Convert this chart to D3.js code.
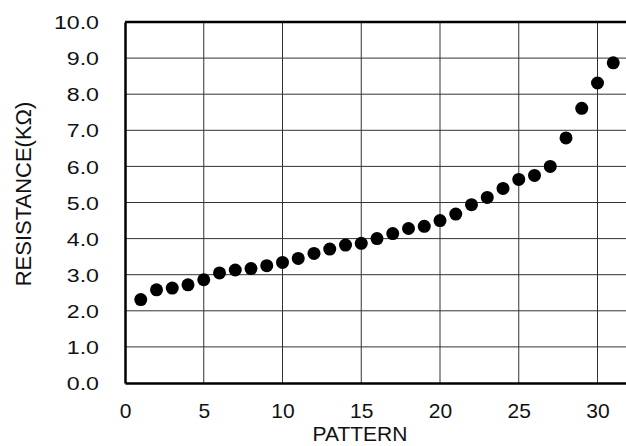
<!DOCTYPE html>
<html>
<head>
<meta charset="utf-8">
<script src="https://cdn.jsdelivr.net/npm/d3@7"></script>
<style>
  body { margin: 0; background: #fff; }
  text { font-family: "Liberation Sans", Arial, sans-serif; fill: #111; }
</style>
</head>
<body>
<div id="chart"></div>
<script>
// data, one resistance value per pattern number
var patterns = [1,2,3,4,5,6,7,8,9,10,11,12,13,14,15,16,17,18,19,20,21,22,23,24,25,26,27,28,29,30,31];
var resistance = [2.31, 2.58, 2.63, 2.72, 2.86, 3.05, 3.13, 3.17, 3.25, 3.34, 3.45, 3.59, 3.71, 3.82, 3.87,
  4.0, 4.14, 4.28, 4.34, 4.5, 4.68, 4.94, 5.14, 5.39, 5.64, 5.75, 6.0, 6.79, 7.61, 8.31, 8.87];
var xTicks = [0, 5, 10, 15, 20, 25, 30];
var yTicks = [0, 1, 2, 3, 4, 5, 6, 7, 8, 9, 10];

var width = 626, height = 446;

var svg = d3.select("#chart")
  .append("svg")
    .attr("width", width)
    .attr("height", height)

// x runs past the right edge of the window, the frame is cut off there
var x = d3.scaleLinear().domain([0, 32]).range([125, 629]);
var y = d3.scaleLinear().domain([0, 10]).range([383, 22]);

// grid lines
svg.append("g")
  .selectAll("line")
  .data(xTicks.filter(function(d) { return d > 0; }))
  .enter()
  .append("line")
    .attr("x1", function(d) { return x(d); })
    .attr("x2", function(d) { return x(d); })
    .attr("y1", y(0))
    .attr("y2", y(10))
    .attr("stroke", "#333")
    .attr("stroke-width", 1)

svg.append("g")
  .selectAll("line")
  .data(yTicks.filter(function(d) { return d > 0 && d < 10; }))
  .enter()
  .append("line")
    .attr("x1", x(0))
    .attr("x2", width)
    .attr("y1", function(d) { return y(d); })
    .attr("y2", function(d) { return y(d); })
    .attr("stroke", "#333")
    .attr("stroke-width", 1)

// axes, no ticks, just the heavy lines and the labels
var xAxis = svg.append("g")
  .attr("transform", "translate(0," + y(0) + ")")
  .call(d3.axisBottom(x).tickValues(xTicks).tickSize(0).tickPadding(20).tickFormat(d3.format("d")))
xAxis.select(".domain").attr("stroke", "#000").attr("stroke-width", 2.5)
xAxis.selectAll("text")
  .style("font-size", "21px")

var yAxis = svg.append("g")
  .attr("transform", "translate(" + x(0) + ",0)")
  .call(d3.axisLeft(y).tickValues(yTicks).tickSize(0).tickPadding(0).tickFormat(d3.format(".1f")))
yAxis.select(".domain").attr("stroke", "#000").attr("stroke-width", 2.5)
// the y labels in the picture are wider than they are tall, so stretch them a bit
yAxis.selectAll(".tick text")
  .attr("x", 0)
  .attr("dy", "0.35em")
  .style("font-size", "19px")
  .attr("transform", "translate(-26,0) scale(1.22,1)")

// top border of the frame
svg.append("line")
  .attr("x1", x(0))
  .attr("x2", width)
  .attr("y1", y(10))
  .attr("y2", y(10))
  .attr("stroke", "#000")
  .attr("stroke-width", 2.5)

// axis titles
svg.append("text")
  .attr("x", 360)
  .attr("y", 441)
  .attr("text-anchor", "middle")
  .style("font-size", "21px")
  .text("PATTERN")

svg.append("text")
  .attr("transform", "translate(31,194) rotate(-90)")
  .attr("text-anchor", "middle")
  .style("font-size", "22px")
  .text("RESISTANCE(KΩ)")

// the dots
svg.append("g")
  .selectAll("circle")
  .data(patterns)
  .enter()
  .append("circle")
    .attr("cx", function(d) { return x(d); })
    .attr("cy", function(d, i) { return y(resistance[i]); })
    .attr("r", 6.5)
    .attr("fill", "#000")
</script>
</body>
</html>
